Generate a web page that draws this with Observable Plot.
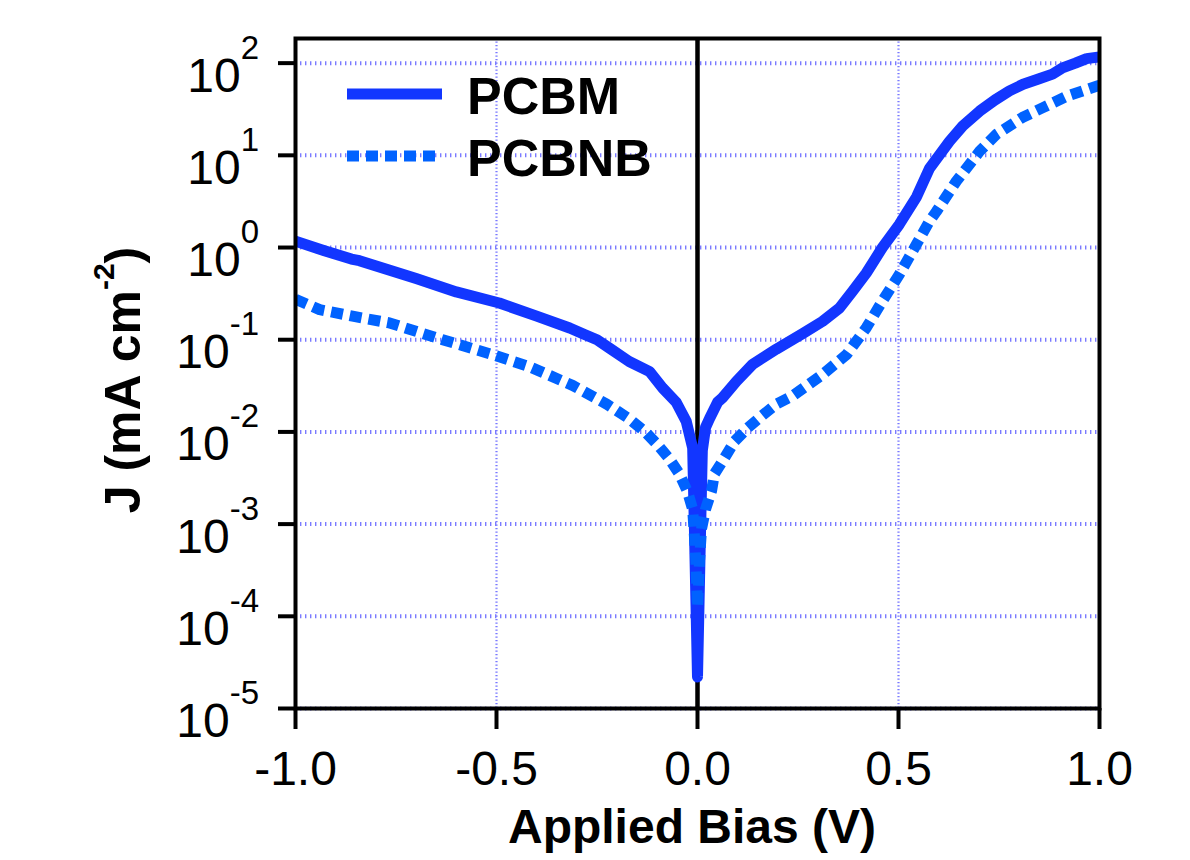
<!DOCTYPE html>
<html><head><meta charset="utf-8">
<script src="https://cdn.jsdelivr.net/npm/d3@7"></script>
<script src="https://cdn.jsdelivr.net/npm/@observablehq/plot@0.6"></script>
<style>body{margin:0;background:#fff} svg{display:block}</style>
</head><body><div id="chart"></div>
<script>
const seriesNames = ["PCBM", "PCBNB"];
const seriesColors = ["#1236ff", "#0062ff"];
const biasPCBM = [-1.0, -0.93, -0.861, -0.841, -0.7, -0.6, -0.493, -0.4, -0.318, -0.281, -0.25, -0.219, -0.17, -0.119, -0.087, -0.053, -0.028, -0.012, -0.007, 0, 0.007, 0.012, 0.02, 0.03, 0.05, 0.062, 0.097, 0.137, 0.196, 0.262, 0.311, 0.353, 0.386, 0.42, 0.46, 0.502, 0.545, 0.577, 0.627, 0.66, 0.702, 0.74, 0.776, 0.81, 0.85, 0.883, 0.908, 0.94, 0.968, 1.0];
const jPCBM = [1.17, 0.93, 0.75, 0.72, 0.46, 0.33, 0.25, 0.18, 0.134, 0.114, 0.1, 0.081, 0.058, 0.045, 0.030, 0.021, 0.013, 0.0067, 0.00065, 0.000022, 0.00065, 0.0063, 0.0112, 0.014, 0.021, 0.0234, 0.0355, 0.054, 0.079, 0.117, 0.158, 0.22, 0.336, 0.53, 1.0, 1.78, 3.55, 7.2, 14.2, 20.9, 30.2, 39.8, 50, 59, 67.6, 76, 89, 100, 112, 117];
const biasPCBNB = [-1.0, -0.94, -0.858, -0.766, -0.634, -0.51, -0.418, -0.311, -0.226, -0.169, -0.13, -0.1, -0.07, -0.045, -0.025, -0.012, -0.008, -0.004, 0, 0.005, 0.01, 0.02, 0.035, 0.042, 0.067, 0.092, 0.124, 0.159, 0.196, 0.236, 0.311, 0.371, 0.42, 0.46, 0.502, 0.545, 0.577, 0.594, 0.644, 0.702, 0.744, 0.808, 0.858, 0.918, 1.0];
const jPCBNB = [0.275, 0.212, 0.18, 0.152, 0.1, 0.069, 0.051, 0.032, 0.020, 0.0138, 0.010, 0.0073, 0.0051, 0.0035, 0.00226, 0.00145, 0.00079, 0.0004, 0.000126, 0.0004, 0.00089, 0.00145, 0.0023, 0.0035, 0.0052, 0.0079, 0.011, 0.0148, 0.020, 0.0245, 0.042, 0.069, 0.135, 0.263, 0.51, 1.09, 1.93, 2.45, 5.25, 11.1, 17, 25.7, 32.7, 43.6, 57.5];
const xTicks = [-1, -0.5, 0, 0.5, 1];
const xTickLabels = ["-1.0", "-0.5", "0.0", "0.5", "1.0"];
const yTicks = [1e-5, 1e-4, 1e-3, 1e-2, 1e-1, 1, 10, 100];
const yExponents = ["-5", "-4", "-3", "-2", "-1", "0", "1", "2"];
const xGrid = [-0.5, 0.5];
const xTitle = "Applied Bias (V)";

const rows = (xs, ys, name) => xs.map((x, i) => ({bias: x, j: ys[i], series: name}));
const pcbm = rows(biasPCBM, jPCBM, seriesNames[0]);
const pcbnb = rows(biasPCBNB, jPCBNB, seriesNames[1]);

const plot = Plot.plot({
  width: 1190, height: 860,
  marginLeft: 295, marginRight: 91, marginTop: 38, marginBottom: 152,
  style: {fontFamily: "'Liberation Sans', Arial, sans-serif", background: "white", color: "black", overflow: "visible"},
  x: {domain: [-1, 1]},
  y: {type: "log", domain: [1e-5, 185]},
  marks: [
    Plot.gridY(yTicks, {stroke: "#7a7aff", strokeOpacity: 1, strokeWidth: 4, strokeDasharray: "1.4,3.6"}),
    Plot.gridX(xGrid, {stroke: "#7a7aff", strokeOpacity: 1, strokeWidth: 2.2, strokeDasharray: "1.3,2.2"}),
    Plot.ruleX([0], {stroke: "black", strokeWidth: 4.5}),
    Plot.line(pcbm, {x: "bias", y: "j", stroke: seriesColors[0], strokeWidth: 11, clip: true}),
    Plot.line(pcbnb, {x: "bias", y: "j", stroke: seriesColors[1], strokeWidth: 11, strokeDasharray: "12,7", strokeLinecap: "butt", clip: true}),
    Plot.axisX({ticks: xTicks, tickSize: 21, tickPadding: 21, strokeWidth: 4, fontSize: 48, tickFormat: d => xTickLabels[xTicks.indexOf(d)], label: null}),
    Plot.axisY({ticks: yTicks, tickSize: 17, tickPadding: 19, strokeWidth: 4, fontSize: 48, tickFormat: d => yExponents[yTicks.indexOf(d)], label: null}),
    Plot.frame({stroke: "black", strokeWidth: 4})
  ]
});
document.getElementById("chart").appendChild(plot);

const svg = d3.select(plot);
const yScale = plot.scale("y");
const labelX = 295 - 17 - 19;
const yLabelGroup = svg.select('g[aria-label="y-axis tick label"]');
yLabelGroup.attr("transform", null);
yLabelGroup.selectAll("text").each(function () {
  const t = d3.select(this);
  const exp = t.text();
  const v = yTicks[yExponents.indexOf(exp)];
  const y = yScale.apply(v);
  t.text(null).attr("x", null).attr("y", null).attr("dy", null).attr("dx", null)
    .attr("transform", `translate(${labelX},${y})`).attr("text-anchor", "end");
  t.append("tspan").attr("dy", 29).text("10");
  t.append("tspan").attr("dy", -33).attr("font-size", 33).text(exp);
});

// axis titles
svg.append("text").attr("x", 692).attr("y", 843).attr("text-anchor", "middle")
  .attr("font-size", 48).attr("font-weight", "bold").attr("fill", "black").text(xTitle);
const yt = svg.append("text").attr("transform", "translate(140,380) rotate(-90)")
  .attr("text-anchor", "middle").attr("font-size", 50).attr("font-weight", "bold").attr("fill", "black");
yt.append("tspan").text("J (mA cm");
yt.append("tspan").attr("dy", -26).attr("font-size", 30).text("-2");
yt.append("tspan").attr("dy", 26).text(")");

// legend
const legY = [94, 156];
seriesNames.forEach((name, i) => {
  const l = svg.append("line").attr("x1", 347).attr("x2", 442).attr("y1", legY[i]).attr("y2", legY[i])
    .attr("stroke", seriesColors[i]).attr("stroke-width", 11);
  if (i === 1) l.attr("stroke-dasharray", "12,7");
  svg.append("text").attr("x", 467).attr("y", legY[i] + 20).attr("font-size", 52)
    .attr("text-anchor", "start").attr("font-weight", "bold").attr("fill", "black").text(name);
});
</script>
</body></html>
